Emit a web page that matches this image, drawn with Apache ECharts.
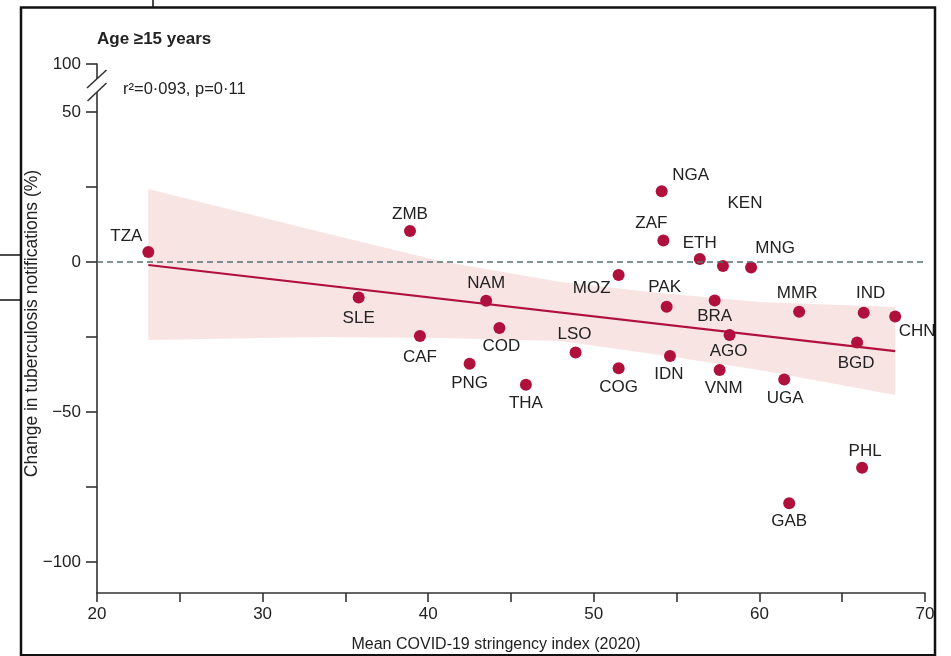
<!DOCTYPE html>
<html>
<head>
<meta charset="utf-8">
<script src="https://cdn.jsdelivr.net/npm/echarts@6/dist/echarts.min.js"></script>
<style>
html,body{margin:0;padding:0;background:#fff;}
#chart{width:951px;height:656px;}
</style>
</head>
<body>
<div id="chart"></div>
<script>
// ---- Data ----
const codes = ['TZA','ZMB','SLE','CAF','NAM','COD','PNG','THA','MOZ','LSO','COG','NGA','ZAF','ETH','KEN','MNG','PAK','BRA','MMR','IND','CHN','AGO','BGD','IDN','VNM','UGA','PHL','GAB'];
const stringency = [23.1,38.9,35.8,39.5,43.5,44.3,42.5,45.9,51.5,48.9,51.5,54.1,54.2,56.4,57.8,59.5,54.4,57.3,62.4,66.3,68.2,58.2,65.9,54.6,57.6,61.5,66.2,61.8];
const change = [3.3,10.3,-11.8,-24.7,-12.9,-22.0,-33.9,-40.9,-4.3,-30.2,-35.4,23.6,7.2,1.0,-1.3,-1.8,-14.9,-12.8,-16.6,-16.9,-18.2,-24.3,-26.8,-31.3,-36.0,-39.2,-68.6,-80.4];

const fitX = [23.1, 68.2];
const fitY = [-1.0, -29.7];

const bandX = [23.1, 33.5, 40.7, 48.0, 54.0, 60.0, 68.2];
const bandUpper = [24.3, 10.0, 0.3, -6.7, -10.3, -13.3, -15.0];
const bandLower = [-26.0, -25.0, -25.3, -26.3, -31.0, -36.0, -44.3];

const xTicks = [20, 25, 30, 35, 40, 45, 50, 55, 60, 65, 70];
const xTickLabels = [20, 30, 40, 50, 60, 70];
const yTicks = [-100, -75, -50, -25, 0, 25, 50];
const yTickLabels = [-100, -50, 0, 50];
const yBreakTop = 66;          // axis position that carries the "100" label above the break
const yBreakTopLabel = '100';

const titleText = 'Age \u226515 years';
const statText = 'r\u00B2=0\u00B7093, p=0\u00B711';
const xName = 'Mean COVID-19 stringency index (2020)';
const yName = 'Change in tuberculosis notifications (%)';

// ---- Styling ----
const FONT = 'Liberation Sans';
const RED = '#b0103c';
const BAND = '#f9e4e4';
const AXIS = '#333333';
const TXT = '#222222';

// label offsets (label centre relative to dot centre, px)
const labelOffset = {
  TZA:[-22,-16], ZMB:[0,-17], SLE:[0,21], CAF:[0,21], NAM:[0,-17], COD:[2,18],
  PNG:[0,20], THA:[0,19], MOZ:[-27,13], LSO:[-1,-18], COG:[0,19], NGA:[29,-16],
  ZAF:[-12,-17], ETH:[0,-16], KEN:[22,-63], MNG:[24,-19], PAK:[-2,-19], BRA:[0,16],
  MMR:[-2,-18], IND:[7,-19], CHN:[22,15], AGO:[-1,16], BGD:[-1,21], IDN:[-1,18],
  VNM:[4,18], UGA:[1,19], PHL:[3,-16], GAB:[0,18]
};

const chart = echarts.init(document.getElementById('chart'), null, {renderer:'canvas'});

const scatterData = codes.map((c, i) => ({
  value: [stringency[i], change[i]],
  name: c,
  label: {offset: labelOffset[c] || [0,-16]}
}));

const option = {
  animation: false,
  backgroundColor: '#fff',
  textStyle: {fontFamily: FONT},
  grid: {left: 97, right: 26, top: 64, bottom: 63, containLabel: false},
  xAxis: {
    type: 'value', min: 20, max: 70,
    axisLine: {show: true, onZero: false, lineStyle: {color: AXIS, width: 1.6}},
    axisTick: {show: true, length: 9, lineStyle: {color: AXIS, width: 1.6}, customValues: xTicks},
    axisLabel: {show: true, customValues: xTickLabels, margin: 13, fontSize: 17, color: TXT, fontFamily: FONT},
    splitLine: {show: false}
  },
  yAxis: {
    type: 'value', min: -110.33, max: yBreakTop,
    axisLine: {show: true, onZero: false, lineStyle: {color: AXIS, width: 1.6}},
    axisTick: {show: true, length: 11, lineStyle: {color: AXIS, width: 1.6}, customValues: yTicks.concat([yBreakTop])},
    axisLabel: {
      show: true, customValues: yTickLabels.concat([yBreakTop]), margin: 16, fontSize: 17, color: TXT, fontFamily: FONT,
      formatter: v => v === yBreakTop ? yBreakTopLabel : String(v).replace('-', '\u2212')
    },
    splitLine: {show: false}
  },
  series: [
    {
      type: 'custom', z: 1, silent: true,
      data: [0],
      renderItem: (params, api) => {
        const pts = [];
        for (let i = 0; i < bandX.length; i++) pts.push(api.coord([bandX[i], bandUpper[i]]));
        for (let i = bandX.length - 1; i >= 0; i--) pts.push(api.coord([bandX[i], bandLower[i]]));
        return {type: 'polygon', shape: {points: pts}, style: {fill: BAND, stroke: null}};
      }
    },
    {
      type: 'line', z: 3, silent: true, symbol: 'none',
      data: fitX.map((x, i) => [x, fitY[i]]),
      lineStyle: {color: RED, width: 2.2}
    },
    {
      type: 'scatter', z: 4, symbolSize: 12,
      itemStyle: {color: RED, opacity: 1},
      data: scatterData,
      label: {
        show: true, position: 'inside', formatter: p => p.name, opacity: 1,
        color: TXT, fontSize: 17, fontFamily: FONT, align: 'center', verticalAlign: 'middle'
      },
      markLine: {
        silent: true, symbol: 'none', label: {show: false},
        lineStyle: {color: '#557070', type: [6, 4], width: 1.6, opacity: 1},
        data: [{yAxis: 0}]
      }
    }
  ]
};
chart.setOption(option);

// decorations: titles, axis break, frame
const ax = chart.convertToPixel({xAxisIndex: 0}, 20);
const yTop = chart.convertToPixel({yAxisIndex: 0}, yBreakTop);
const graphics = [
  {type: 'text', left: ax, top: 31, style: {text: titleText, fontSize: 17, fontWeight: 'bold', fontFamily: FONT, fill: TXT}},
  {type: 'text', left: 123, top: 81, style: {text: statText, fontSize: 16.5, fontFamily: FONT, fill: TXT}},
  {type: 'text', x: 32, y: 323.5, rotation: Math.PI / 2,
    style: {text: yName, fontSize: 17.5, fontFamily: FONT, fill: TXT, align: 'center', verticalAlign: 'middle'}},
  {type: 'text', x: 496, y: 645,
    style: {text: xName, fontSize: 16, fontFamily: FONT, fill: TXT, align: 'center', verticalAlign: 'middle'}},
  // axis break
  {type: 'rect', shape: {x: ax - 3, y: yTop + 15, width: 6, height: 13}, style: {fill: '#fff'}, z: 100},
  {type: 'line', shape: {x1: ax - 10, y1: yTop + 24, x2: ax + 9.5, y2: yTop + 6}, style: {stroke: AXIS, lineWidth: 1.6}, z: 101},
  {type: 'line', shape: {x1: ax - 9.5, y1: yTop + 37, x2: ax + 9.5, y2: yTop + 19}, style: {stroke: AXIS, lineWidth: 1.6}, z: 101},
  // panel frame
  {type: 'polyline', shape: {points: [[21, 656], [21, 7.5], [935, 7.5], [935, 656]]}, style: {stroke: '#111', lineWidth: 2.5, fill: null}, z: 100},
  {type: 'line', shape: {x1: 21, y1: 655, x2: 935, y2: 655}, style: {stroke: '#111', lineWidth: 2}, z: 100},
  {type: 'line', shape: {x1: 153, y1: 0, x2: 153, y2: 7}, style: {stroke: '#111', lineWidth: 1.5}, z: 100},
  {type: 'line', shape: {x1: 0, y1: 255, x2: 21, y2: 255}, style: {stroke: '#111', lineWidth: 1.5}, z: 100},
  {type: 'line', shape: {x1: 0, y1: 300, x2: 21, y2: 300}, style: {stroke: '#111', lineWidth: 1.5}, z: 100}
];
chart.setOption({graphic: graphics});
</script>
</body>
</html>
